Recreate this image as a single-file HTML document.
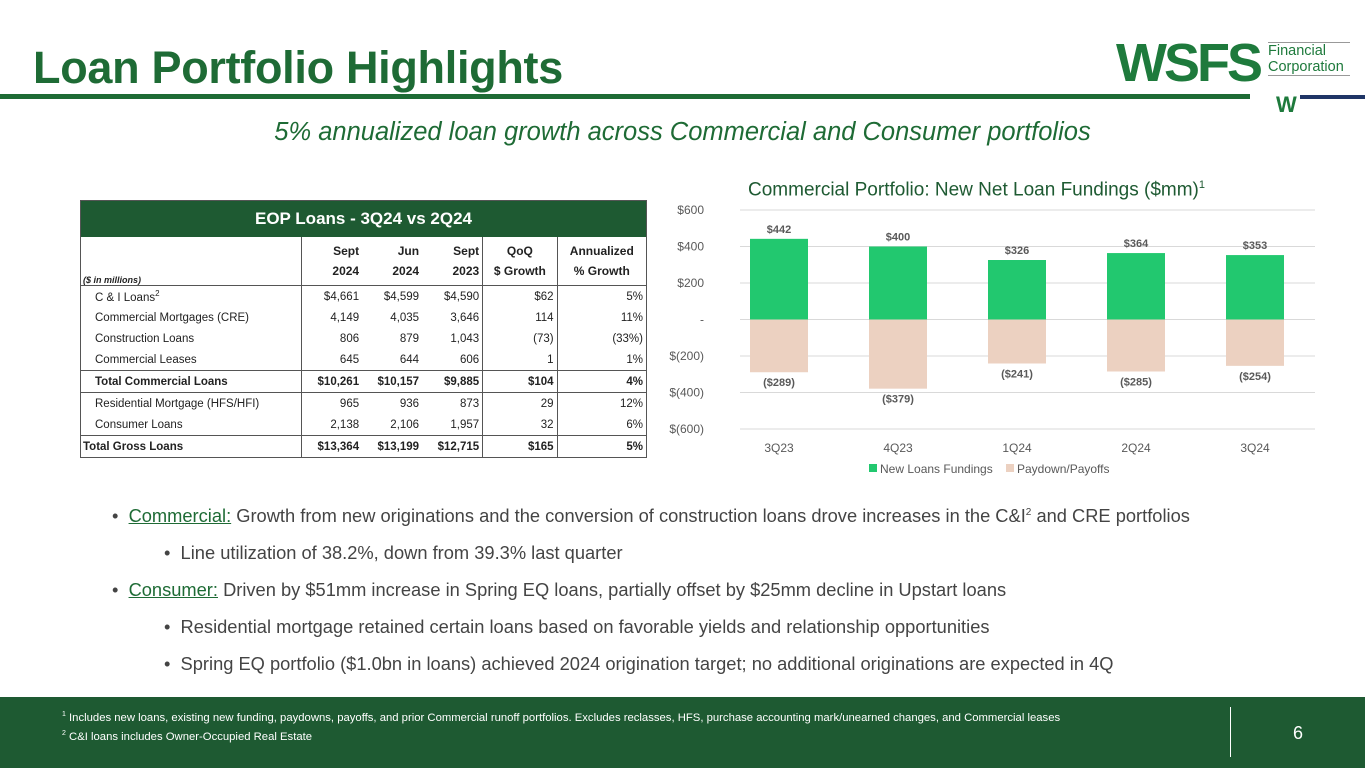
<!DOCTYPE html>
<html><head><meta charset="utf-8"><style>
body{margin:0;width:1365px;height:768px;position:relative;overflow:hidden;background:#fff;font-family:"Liberation Sans",sans-serif;}
.abs{position:absolute;}
table{border-collapse:collapse;font-family:"Liberation Sans",sans-serif;}
#tbl td{font-size:11.5px;height:21px;padding:0 3px;text-align:right;color:#222;}
#tbl td.l{text-align:left;padding-left:14px;}
.bold td{font-weight:bold;}
.bl{border-left:1px solid #555;}
</style></head><body>
<div class="abs" style="left:33px;top:42px;font-size:45px;font-weight:bold;color:#1e6b35;letter-spacing:-0.3px;">Loan Portfolio Highlights</div>
<div class="abs" style="left:0;top:94px;width:1250px;height:5px;background:#1e6b35;"></div>
<div class="abs" style="left:1300px;top:95px;width:65px;height:4px;background:#1f3566;"></div>
<div class="abs" style="left:1116px;top:34px;">
 <span style="font-size:54px;font-weight:900;color:#1e7a3c;letter-spacing:-3px;font-family:'Liberation Sans',sans-serif;line-height:58px;">WSFS</span>
 <span class="abs" style="left:152px;top:8px;font-size:14.5px;color:#1e7a3c;line-height:16px;width:82px;border-top:1px solid #999;border-bottom:1px solid #999;">Financial<br>Corporation</span>
 <span class="abs" style="left:160px;top:58px;font-size:22px;font-weight:900;color:#1e7a3c;">W</span>
</div>
<div class="abs" style="left:0;width:1365px;top:118px;text-align:center;font-size:25.5px;font-style:italic;color:#1e6b35;">5% annualized loan growth across Commercial and Consumer portfolios</div>

<div class="abs" style="left:80px;top:200px;width:565px;border:1px solid #555;">
<div style="height:36px;background:#1e5a32;color:#fff;font-weight:bold;font-size:17px;text-align:center;line-height:36px;">EOP Loans - 3Q24 vs 2Q24</div>
<table id="tbl" style="width:565px;">
<tr style="font-weight:bold;"><td class="l" style="padding-left:2px;font-size:9px;font-style:italic;vertical-align:bottom;width:215px;height:48px;border-bottom:1px solid #555;">($ in millions)</td>
<td class="bl" style="border-bottom:1px solid #555;text-align:right;font-size:12px;line-height:20px;">Sept<br>2024</td><td style="border-bottom:1px solid #555;font-size:12px;line-height:20px;">Jun<br>2024</td><td style="border-bottom:1px solid #555;font-size:12px;line-height:20px;">Sept<br>2023</td><td class="bl" style="border-bottom:1px solid #555;font-size:12px;line-height:20px;text-align:center;">QoQ<br>$ Growth</td><td class="bl" style="border-bottom:1px solid #555;font-size:12px;line-height:20px;text-align:center;">Annualized<br>% Growth</td></tr>
<tr><td class="l">C &amp; I Loans<sup style="font-size:8px">2</sup></td><td class="bl">$4,661</td><td>$4,599</td><td>$4,590</td><td class="bl">$62</td><td class="bl">5%</td></tr>
<tr><td class="l">Commercial Mortgages (CRE)</td><td class="bl">4,149</td><td>4,035</td><td>3,646</td><td class="bl">114</td><td class="bl">11%</td></tr>
<tr><td class="l">Construction Loans</td><td class="bl">806</td><td>879</td><td>1,043</td><td class="bl">(73)</td><td class="bl">(33%)</td></tr>
<tr><td class="l">Commercial Leases</td><td class="bl">645</td><td>644</td><td>606</td><td class="bl">1</td><td class="bl">1%</td></tr>
<tr class="bold" style="border-top:1px solid #555;border-bottom:1px solid #555;"><td class="l">Total Commercial Loans</td><td class="bl">$10,261</td><td>$10,157</td><td>$9,885</td><td class="bl">$104</td><td class="bl">4%</td></tr>
<tr><td class="l">Residential Mortgage (HFS/HFI)</td><td class="bl">965</td><td>936</td><td>873</td><td class="bl">29</td><td class="bl">12%</td></tr>
<tr><td class="l">Consumer Loans</td><td class="bl">2,138</td><td>2,106</td><td>1,957</td><td class="bl">32</td><td class="bl">6%</td></tr>
<tr class="bold" style="border-top:1px solid #555;"><td class="l" style="padding-left:2px;">Total Gross Loans</td><td class="bl">$13,364</td><td>$13,199</td><td>$12,715</td><td class="bl">$165</td><td class="bl">5%</td></tr>
</table></div>

<div class="abs" style="left:748px;top:179px;font-size:19px;color:#1e5a32;">Commercial Portfolio: New Net Loan Fundings ($mm)<sup style="font-size:11px">1</sup></div>
<svg class="abs" style="left:0;top:0" width="1365" height="768" id="chart"></svg>

<div class="abs" style="left:112px;top:494px;font-size:18.3px;color:#444;line-height:37px;white-space:nowrap;">
<div>•&nbsp;&nbsp;<span style="color:#1e6b35;text-decoration:underline;">Commercial:</span> Growth from new originations and the conversion of construction loans drove increases in the C&amp;I<sup style="font-size:10px">2</sup> and CRE portfolios</div>
<div style="padding-left:52px">•&nbsp;&nbsp;Line utilization of 38.2%, down from 39.3% last quarter</div>
<div>•&nbsp;&nbsp;<span style="color:#1e6b35;text-decoration:underline;">Consumer:</span> Driven by $51mm increase in Spring EQ loans, partially offset by $25mm decline in Upstart loans</div>
<div style="padding-left:52px">•&nbsp;&nbsp;Residential mortgage retained certain loans based on favorable yields and relationship opportunities</div>
<div style="padding-left:52px">•&nbsp;&nbsp;Spring EQ portfolio ($1.0bn in loans) achieved 2024 origination target; no additional originations are expected in 4Q</div>
</div>

<div class="abs" style="left:0;top:697px;width:1365px;height:71px;background:#1e5a32;">
 <div style="position:absolute;left:62px;top:10px;font-size:11.3px;color:#fff;line-height:15px;white-space:nowrap;"><sup style="font-size:7px">1</sup> Includes new loans, existing new funding, paydowns, payoffs, and prior Commercial runoff portfolios. Excludes reclasses, HFS, purchase accounting mark/unearned changes, and Commercial leases<br><sup style="font-size:7px">2</sup> C&amp;I loans includes Owner-Occupied Real Estate</div>
 <div style="position:absolute;left:1230px;top:10px;width:1px;height:50px;background:#fff;"></div>
 <div style="position:absolute;left:1293px;top:26px;font-size:18px;color:#fff;">6</div>
</div>

<script>
const categories=["3Q23","4Q23","1Q24","2Q24","3Q24"];
const newFundings=[442,400,326,364,353];
const paydowns=[-289,-379,-241,-285,-254];
const yTicks=[600,400,200,0,-200,-400,-600];
const yTickLabels=["$600","$400","$200","-","$(200)","$(400)","$(600)"];
const svg=document.getElementById('chart');const NS="http://www.w3.org/2000/svg";
const y=v=>319.5-v*(109.5/600);
const x=i=>779+i*119;
function mk(t,a,txt){const e=document.createElementNS(NS,t);for(const k in a)e.setAttribute(k,a[k]);if(txt!=null)e.textContent=txt;svg.appendChild(e);return e;}
yTicks.forEach((v,i)=>{
 const g=mk('line',{x1:740,x2:1315,y1:y(v),y2:y(v),stroke:'#d9d9d9','stroke-width':1});
 
 
 const t=mk('text',{x:704,y:y(v)+4,'text-anchor':'end','font-size':12,fill:'#595959','font-family':'Liberation Sans'},yTickLabels[i]);
 
 
});
categories.forEach((c,i)=>{
 const b=mk('rect',{x:x(i)-29,y:y(newFundings[i]),width:58,height:y(0)-y(newFundings[i]),fill:'#22c86f'});
 
 
 const p=mk('rect',{x:x(i)-29,y:y(0),width:58,height:y(paydowns[i])-y(0),fill:'#ecd1c1'});
 
 
 const l1=mk('text',{x:x(i),y:y(newFundings[i])-6,'text-anchor':'middle','font-size':11,'font-weight':'bold',fill:'#595959','font-family':'Liberation Sans'},'$'+newFundings[i]);
 
 
 const l2=mk('text',{x:x(i),y:y(paydowns[i])+14,'text-anchor':'middle','font-size':11,'font-weight':'bold',fill:'#595959','font-family':'Liberation Sans'},'($'+(-paydowns[i])+')');
 
 
 const xl=mk('text',{x:x(i),y:452,'text-anchor':'middle','font-size':12,fill:'#595959','font-family':'Liberation Sans'},c);
 
 
});
const legend=[["New Loans Fundings","#22c86f",869],["Paydown/Payoffs","#ecd1c1",1006]];
legend.forEach(l=>{
 const r=mk('rect',{x:l[2],y:464,width:8,height:8,fill:l[1]});
 
 
 const t=mk('text',{x:l[2]+11,y:473,'font-size':12,fill:'#595959','font-family':'Liberation Sans'},l[0]);
 
 
});
</script>
</body></html>
